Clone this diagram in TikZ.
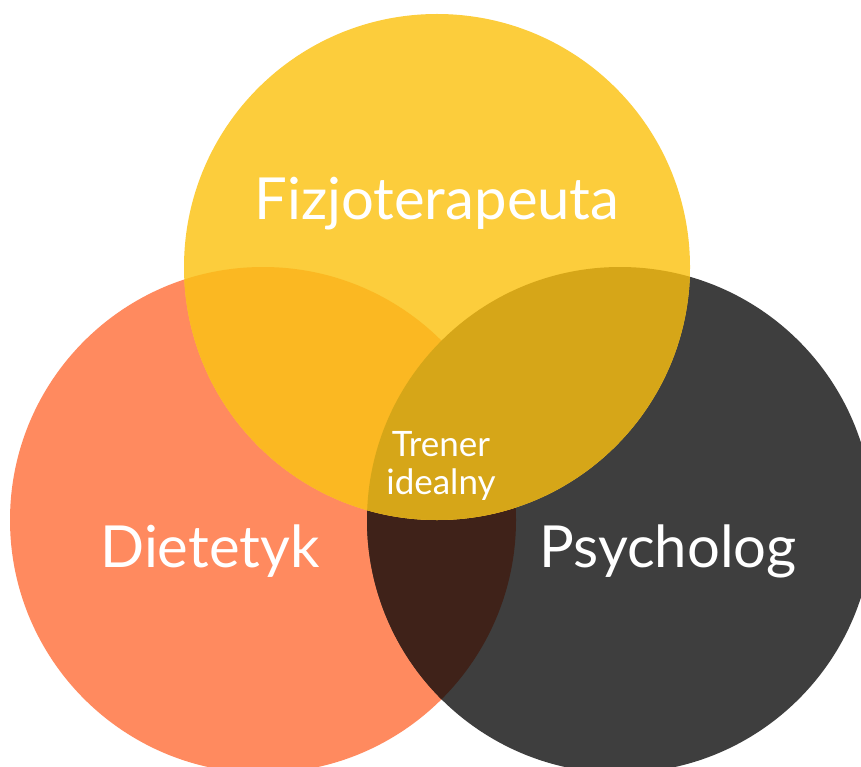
\documentclass[tikz,border=0pt]{standalone}
\usepackage{fontspec}
\setmainfont{Lato}
\usepackage{tikz}
\definecolor{fizjo}{HTML}{FCCD3C}
\definecolor{diet}{HTML}{FF8A5F}
\definecolor{psych}{HTML}{3E3E3E}
\definecolor{fizjodiet}{HTML}{FBB822}
\definecolor{fizjopsych}{HTML}{D6A618}
\definecolor{dietpsych}{HTML}{3F2219}
\tikzstyle{circtext}=[text=white,inner sep=0pt,font=\fontsize{58}{62}\selectfont]

\begin{document}
\begin{tikzpicture}[x=1pt,y=-1pt]
\useasboundingbox (0,0) rectangle (861,767);
\clip (0,0) rectangle (861,767);
\coordinate (F) at (437,267);
\coordinate (D) at (263,520);
\coordinate (P) at (620,520);
\fill[diet] (D) circle (253);
\fill[psych] (P) circle (253);
\begin{scope}
\clip (D) circle (253);
\fill[dietpsych] (P) circle (253);
\end{scope}
\fill[fizjo] (F) circle (253);
\begin{scope}
\clip (F) circle (253);
\fill[fizjodiet] (D) circle (253);
\fill[fizjopsych] (P) circle (253);
\end{scope}
\node[circtext] (fizjolabel) at (437,204) {Fizjoterapeuta};
\node[circtext] (dietlabel) at (210,551) {Dietetyk};
\node[circtext] (psychlabel) at (668,551) {Psycholog};
\node[circtext,align=center,font=\fontsize{35}{38}\selectfont] (trener) at (441,466) {Trener\\idealny};
\end{tikzpicture}
\end{document}
